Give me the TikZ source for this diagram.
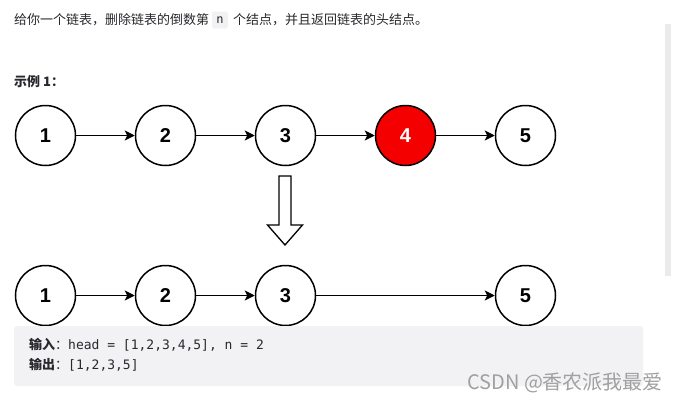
\documentclass[tikz,border=0pt]{standalone}
\usepackage{fontspec}
\setmainfont{Liberation Sans}
\newfontfamily\cjk{Noto Sans CJK SC}
\newfontfamily\mono{DejaVu Sans Mono}
\usetikzlibrary{arrows.meta}
\definecolor{txt}{RGB}{40,40,45}
\definecolor{codebg}{RGB}{242,242,244}
\definecolor{scroll}{RGB}{235,235,235}
\definecolor{nodered}{RGB}{245,0,0}
\definecolor{wm}{RGB}{160,160,160}
\tikzset{
  lnode/.style={circle,draw=black,line width=1.5pt,minimum size=60pt,inner sep=0pt,
    font=\fontsize{20}{24}\selectfont\bfseries},
  rednode/.style={lnode,fill=nodered,text=white},
  link/.style={line width=1.6pt,-{Stealth[length=10pt,width=10pt,inset=2.5pt]}},
  plain/.style={inner sep=0pt,text=txt,font=\cjk\fontsize{13}{15}\selectfont},
  codetxt/.style={inner sep=0pt,text=txt,anchor=west},
}
\begin{document}
\begin{tikzpicture}[x=1pt,y=-1pt]
\useasboundingbox (0,0) rectangle (673,402);
% scrollbar
\fill[scroll] (665,24) rectangle (671,276);
% title line
\node[plain,anchor=west] (t1) at (14,20) {给你一个链表，删除链表的倒数第};
\node[fill=codebg,rounded corners=2pt,inner sep=0pt,minimum width=16pt,minimum height=17pt,
  font=\mono\fontsize{12}{14}\selectfont,text=txt] (tn) at (220,20) {n};
\node[plain,anchor=west] (t2) at (233,20) {个结点，并且返回链表的头结点。};
% example label
\node[plain,anchor=west,font=\cjk\bfseries\fontsize{13}{15}\selectfont] (ex) at (14,82) {示例 1：};
% top row
\node[lnode] (a1) at (45.5,135.5) {1};
\node[lnode] (a2) at (165.5,135.5) {2};
\node[lnode] (a3) at (285.5,135.5) {3};
\node[rednode] (a4) at (405.5,135.5) {4};
\node[lnode] (a5) at (525.5,135.5) {5};
\draw[link] (a1) -- (a2);
\draw[link] (a2) -- (a3);
\draw[link] (a3) -- (a4);
\draw[link] (a4) -- (a5);
% hollow arrow
\draw[line width=1.3pt,line join=miter,fill=white]
  (279,176) -- (291,176) -- (291,225) -- (302.5,225) -- (285,245) -- (267.5,225) -- (279,225) -- cycle;
% bottom row
\node[lnode] (b1) at (45.5,295.5) {1};
\node[lnode] (b2) at (165.5,295.5) {2};
\node[lnode] (b3) at (285.5,295.5) {3};
\node[lnode] (b5) at (525.5,295.5) {5};
\draw[link] (b1) -- (b2);
\draw[link] (b2) -- (b3);
\draw[link] (b3) -- (b5);
% code box
\fill[codebg,rounded corners=3pt] (14,326) rectangle (643,386);
\node[codetxt] (in) at (29,345) {{\cjk\bfseries\fontsize{13}{15}\selectfont 输入}{\cjk\fontsize{13}{15}\selectfont ：}{\mono\fontsize{13}{15}\selectfont head = [1,2,3,4,5], n = 2}};
\node[codetxt] (out) at (29,365) {{\cjk\bfseries\fontsize{13}{15}\selectfont 输出}{\cjk\fontsize{13}{15}\selectfont ：}{\mono\fontsize{13}{15}\selectfont [1,2,3,5]}};
% watermark
\node[inner sep=0pt,anchor=west,text=wm,font=\cjk\fontsize{20}{24}\selectfont] (wm) at (467,383) {CSDN @香农派我最爱};
\end{tikzpicture}
\end{document}
